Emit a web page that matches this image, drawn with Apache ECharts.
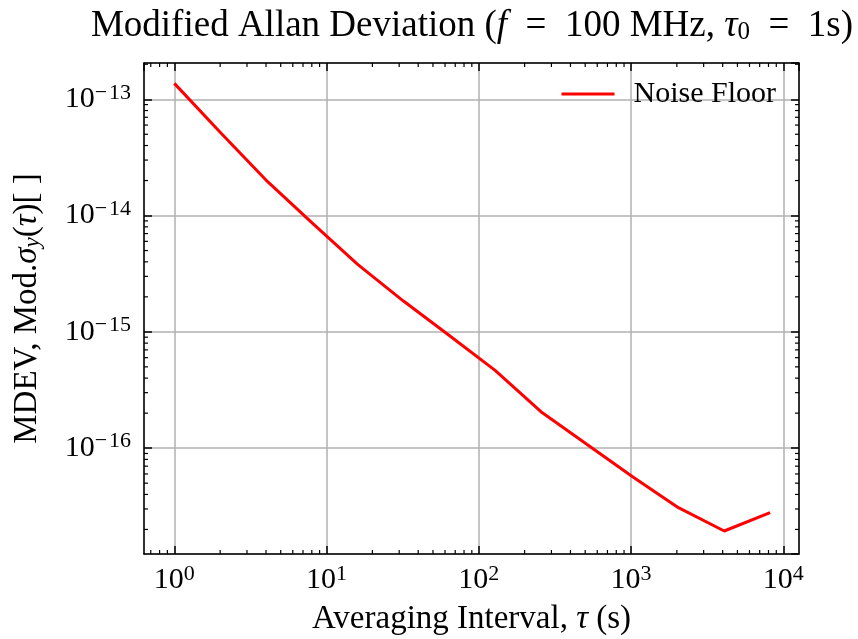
<!DOCTYPE html>
<html><head><meta charset="utf-8">
<script src="https://cdn.jsdelivr.net/npm/echarts@6/dist/echarts.min.js"></script>
<style>html,body{margin:0;padding:0;background:#fff}#c{width:858px;height:639px}</style>
</head><body><div id="c"></div>
<script>
// ---- data ----
const tau = [1, 2, 4, 8, 16, 32, 64, 128, 256, 512, 1024, 2048, 4096, 8192];
const mdev = [1.37e-13, 5.2e-14, 2.02e-14, 8.7e-15, 3.8e-15, 1.84e-15, 9.3e-16,
              4.66e-16, 2.06e-16, 1.08e-16, 5.68e-17, 3.08e-17, 1.94e-17, 2.79e-17];
const seriesName = 'Noise Floor';
const xRange = [0.632, 12690];
const yRange = [1.23e-17, 2.05e-13];
const minorMantissas = [2, 3, 4, 5, 6, 7, 8, 9];
const xDecades = [-1, 0, 1, 2, 3, 4];
const yDecades = [-18, -17, -16, -15, -14, -13];

const FONT = 'Liberation Serif';

function minorTicks(decades, range) {
  const out = [];
  decades.forEach(d => minorMantissas.forEach(m => {
    const v = m * Math.pow(10, d);
    if (v > range[0] && v < range[1]) out.push(v);
  }));
  return out;
}
const xMinor = minorTicks(xDecades, xRange);
const yMinor = minorTicks(yDecades, yRange);
const tickData = xMinor.map(v => [v, 1e-15, 0]).concat(yMinor.map(v => [1, v, 1]));

function expLabel(v) {
  const e = Math.round(Math.log10(v));
  const s = e < 0 ? '\u2212\u200A' + (-e) : '' + e;
  return '{b|10}{s|' + s + '}';
}
const labelRich = {
  b: { fontFamily: FONT, fontSize: 30, color: '#000' },
  s: { fontFamily: FONT, fontSize: 22, color: '#000', padding: [0, 0, 13, 0] }
};
const frameLine = { show: true, onZero: false, lineStyle: { color: '#000', width: 1.5 } };
const majorTick = { show: true, inside: true, length: 8, lineStyle: { color: '#000', width: 1.5 } };
const gridLine = { show: true, lineStyle: { color: '#b0b0b0', width: 1.5 } };

const chart = echarts.init(document.getElementById('c'), null, { renderer: 'canvas' });
chart.setOption({
  animation: false,
  backgroundColor: '#fff',
  title: {
    text: 'Modified Allan Deviation ({i|f}\u2002=\u2002100 MHz, {i|\u03c4}{sub|0}\u2002=\u20021s)',
    left: 467, textAlign: 'center', top: 3,
    textStyle: {
      fontFamily: FONT, fontSize: 37, fontWeight: 'normal', color: '#000',
      rich: {
        i: { fontFamily: FONT, fontSize: 37, fontStyle: 'italic', color: '#000' },
        sub: { fontFamily: FONT, fontSize: 25, color: '#000', padding: [12, 0, 0, 0] }
      }
    }
  },
  legend: {
    data: [{ name: seriesName, icon: 'rect' }],
    right: 77, top: 74,
    itemWidth: 53, itemHeight: 3,
    textStyle: { fontFamily: FONT, fontSize: 30, color: '#000', padding: [0, 0, 0, 14] }
  },
  grid: { left: 144, right: 59, top: 63, bottom: 85, containLabel: false, outerBoundsMode: 'none' },
  xAxis: [
    {
      type: 'log', logBase: 10, min: xRange[0], max: xRange[1], position: 'bottom',
      axisLine: frameLine, axisTick: majorTick, splitLine: gridLine,
      axisLabel: { formatter: expLabel, rich: labelRich, margin: 9, showMinLabel: false, showMaxLabel: false },
      name: 'Averaging Interval, {i|\u03c4} (s)', nameLocation: 'middle', nameGap: 49,
      nameTextStyle: { fontFamily: FONT, fontSize: 33, color: '#000',
        rich: { i: { fontFamily: FONT, fontSize: 33, fontStyle: 'italic', color: '#000' } } }
    },
    {
      type: 'log', logBase: 10, min: xRange[0], max: xRange[1], position: 'top',
      axisLine: frameLine, axisTick: majorTick, splitLine: { show: false }, axisLabel: { show: false }
    }
  ],
  yAxis: [
    {
      type: 'log', logBase: 10, min: yRange[0], max: yRange[1], position: 'left',
      axisLine: frameLine, axisTick: majorTick, splitLine: gridLine,
      axisLabel: { formatter: expLabel, rich: labelRich, margin: 13, showMinLabel: false, showMaxLabel: false },
      name: 'MDEV, Mod.{i|\u03c3}{sub|y}({i|\u03c4})[ ]', nameLocation: 'middle', nameGap: 100,
      nameTextStyle: { fontFamily: FONT, fontSize: 33, color: '#000',
        rich: {
          i: { fontFamily: FONT, fontSize: 33, fontStyle: 'italic', color: '#000' },
          sub: { fontFamily: FONT, fontSize: 23, fontStyle: 'italic', color: '#000', padding: [10, 0, 0, 0] }
        } }
    },
    {
      type: 'log', logBase: 10, min: yRange[0], max: yRange[1], position: 'right',
      axisLine: frameLine, axisTick: majorTick, splitLine: { show: false }, axisLabel: { show: false }
    }
  ],
  series: [
    {
      name: seriesName, type: 'line', xAxisIndex: 0, yAxisIndex: 0,
      data: tau.map((t, i) => [t, mdev[i]]),
      showSymbol: false, symbol: 'none', color: '#ff0000',
      lineStyle: { color: '#ff0000', width: 3 }, z: 5
    },
    {
      name: 'minorTicks', type: 'custom', xAxisIndex: 0, yAxisIndex: 0, silent: true, clip: false, z: 6,
      data: tickData,
      renderItem: function (params, api) {
        const cs = params.coordSys;
        const L = 4;
        const style = { stroke: '#000', lineWidth: 1.2 };
        if (api.value(2) === 0) {
          const px = api.coord([api.value(0), 1e-15])[0];
          const b = cs.y + cs.height, t = cs.y;
          return { type: 'group', children: [
            { type: 'line', shape: { x1: px, y1: b, x2: px, y2: b - L }, style: style },
            { type: 'line', shape: { x1: px, y1: t, x2: px, y2: t + L }, style: style }
          ] };
        } else {
          const py = api.coord([1, api.value(1)])[1];
          const l = cs.x, r = cs.x + cs.width;
          return { type: 'group', children: [
            { type: 'line', shape: { x1: l, y1: py, x2: l + L, y2: py }, style: style },
            { type: 'line', shape: { x1: r, y1: py, x2: r - L, y2: py }, style: style }
          ] };
        }
      }
    }
  ]
});
</script>
</body></html>
